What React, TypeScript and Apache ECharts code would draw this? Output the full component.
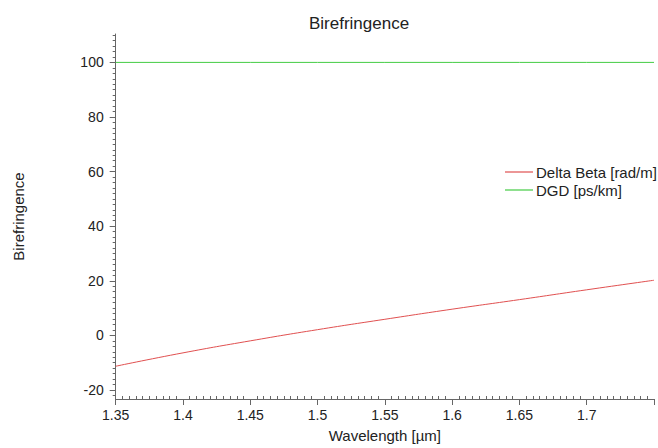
import React, { useEffect, useRef } from "react";
import * as echarts from "echarts";

const wavelengths = [1.35, 1.4, 1.45, 1.5, 1.55, 1.6, 1.65, 1.7, 1.75];
const deltaBeta = [-11.3, -6.4, -2.0, 2.1, 5.9, 9.6, 13.1, 16.7, 20.2];
const dgd = [100, 100, 100, 100, 100, 100, 100, 100, 100];
const yMajorTicks = [-20, 0, 20, 40, 60, 80, 100];
const xLabels = [1.35, 1.4, 1.45, 1.5, 1.55, 1.6, 1.65, 1.7];

const X_MIN = 1.35;
const X_MAX = 1.75;
const Y_MIN = -23.3;
const Y_MAX = 110.4;

const yMinorTicks: number[] = [];
for (let v = -22; v <= 110; v += 2) if (v % 20 !== 0) yMinorTicks.push(v);
const xMinorTicks: number[] = [];
for (let i = 0; i <= 80; i++) if (i % 10 !== 0) xMinorTicks.push(+(1.35 + i * 0.005).toFixed(3));

const FONT = "Liberation Sans, Arial, sans-serif";
const AXIS_COLOR = "#666";
const TEXT_COLOR = "#222";

export default function App() {
  const ref = useRef<HTMLDivElement>(null);
  useEffect(() => {
    if (!ref.current) return;
    const chart = echarts.init(ref.current, null, { renderer: "svg" });
    chart.setOption({
      animation: false,
      backgroundColor: "#fff",
      textStyle: { fontFamily: FONT },
      title: {
        text: "Birefringence",
        left: 354,
        top: 10,
        textAlign: "center",
        textStyle: { fontFamily: FONT, fontSize: 17, fontWeight: "normal", color: TEXT_COLOR },
      },
      legend: {
        orient: "vertical",
        left: 505,
        top: 164,
        padding: 0,
        itemGap: 2,
        itemWidth: 28,
        itemHeight: 1.2,
        icon: "rect",
        textStyle: { fontFamily: FONT, fontSize: 15, color: TEXT_COLOR, lineHeight: 16, padding: [0, 0, 0, -2] },
        data: ["Delta Beta [rad/m]", "DGD [ps/km]"],
      },
      grid: { left: 115.7, right: 4, top: 34, bottom: 48.7, containLabel: false },
      xAxis: [
        {
          type: "value",
          min: X_MIN,
          max: X_MAX,
          name: "Wavelength [µm]",
          nameLocation: "middle",
          nameGap: 29,
          nameTextStyle: { fontFamily: FONT, fontSize: 15, color: TEXT_COLOR },
          axisLine: { show: true, onZero: false, lineStyle: { color: AXIS_COLOR, width: 1 } },
          axisTick: { show: true, length: 6, customValues: xLabels.concat([1.75]), lineStyle: { color: AXIS_COLOR } },
          axisLabel: {
            customValues: xLabels,
            margin: 9,
            fontFamily: FONT,
            fontSize: 14,
            color: TEXT_COLOR,
            formatter: (v: number) => String(+v.toFixed(2)),
          },
          splitLine: { show: false },
        },
        {
          type: "value",
          position: "bottom",
          min: X_MIN,
          max: X_MAX,
          axisLine: { show: false, onZero: false },
          axisTick: { show: true, inside: true, length: 3, customValues: xMinorTicks, lineStyle: { color: AXIS_COLOR } },
          axisLabel: { show: false },
          splitLine: { show: false },
        },
      ],
      yAxis: [
        {
          type: "value",
          min: Y_MIN,
          max: Y_MAX,
          name: "Birefringence",
          nameLocation: "middle",
          nameGap: 90,
          nameTextStyle: { fontFamily: FONT, fontSize: 15, color: TEXT_COLOR },
          axisLine: { show: true, onZero: false, lineStyle: { color: AXIS_COLOR, width: 1 } },
          axisTick: { show: true, length: 6, customValues: yMajorTicks, lineStyle: { color: AXIS_COLOR } },
          axisLabel: { customValues: yMajorTicks, margin: 12, fontFamily: FONT, fontSize: 14, color: TEXT_COLOR },
          splitLine: { show: false },
        },
        {
          type: "value",
          position: "left",
          min: Y_MIN,
          max: Y_MAX,
          axisLine: { show: false, onZero: false },
          axisTick: { show: true, length: 3, customValues: yMinorTicks, lineStyle: { color: AXIS_COLOR } },
          axisLabel: { show: false },
          splitLine: { show: false },
        },
      ],
      series: [
        {
          name: "Delta Beta [rad/m]",
          type: "line",
          xAxisIndex: 0,
          yAxisIndex: 0,
          data: wavelengths.map((w, i) => [w, deltaBeta[i]]),
          smooth: true,
          showSymbol: false,
          symbol: "none",
          color: "#e05050",
          lineStyle: { color: "#e05050", width: 1 },
        },
        {
          name: "DGD [ps/km]",
          type: "line",
          xAxisIndex: 0,
          yAxisIndex: 0,
          data: wavelengths.map((w, i) => [w, dgd[i]]),
          showSymbol: false,
          symbol: "none",
          color: "#44cc44",
          lineStyle: { color: "#44cc44", width: 1 },
        },
      ],
    });
    return () => chart.dispose();
  }, []);
  return <div ref={ref} style={{ width: 658, height: 448, position: "fixed", left: 0, top: 0 }} />;
}
